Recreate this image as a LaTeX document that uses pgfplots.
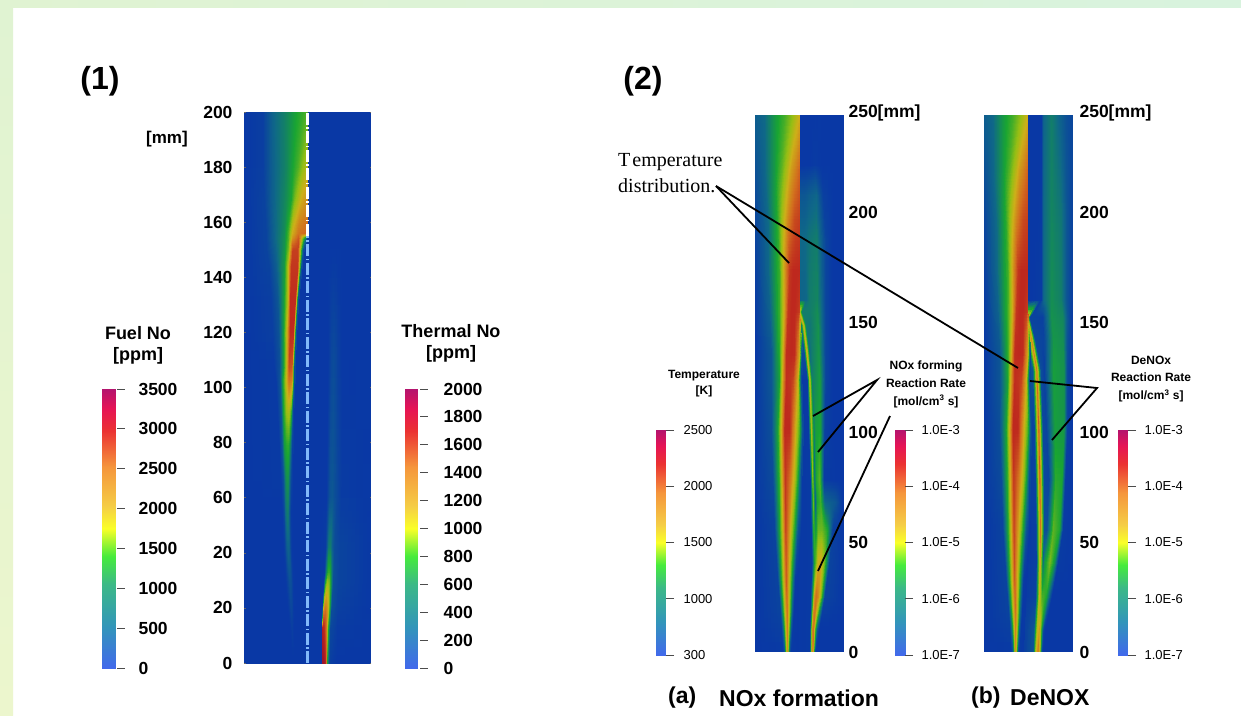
\documentclass[border=0pt]{standalone}
\usepackage{fontspec}
\setmainfont{Liberation Sans}
\newfontfamily\tms{Liberation Serif}
\usepackage{pgfplots}
\usepgfplotslibrary{patchplots}
\pgfplotsset{compat=1.18}
\newcommand{\fs}[1]{\fontsize{#1}{#1}\selectfont}
\pgfplotsset{
  colormap={heat}{rgb255(0cm)=(8,48,170) rgb255(15cm)=(15,105,135) rgb255(30cm)=(25,165,50) rgb255(45cm)=(150,190,20) rgb255(55cm)=(205,175,25) rgb255(70cm)=(210,110,30) rgb255(85cm)=(190,40,30) rgb255(100cm)=(140,10,50)},
  colormap={bar}{rgb255(0cm)=(65,105,235) rgb255(15cm)=(50,150,185) rgb255(30cm)=(60,185,135) rgb255(40cm)=(70,235,60) rgb255(50cm)=(250,255,40) rgb255(58cm)=(245,205,70) rgb255(72cm)=(245,150,60) rgb255(85cm)=(235,50,50) rgb255(93cm)=(230,20,85) rgb255(100cm)=(180,20,110)},
  heatpanel/.style={scale only axis, view={0}{90}, colormap name=heat, point meta min=0, point meta max=1, hide x axis, axis line style={draw=none}, xtick=\empty, zmin=-1, zmax=1, anchor=south west, clip=true},
  fld/.style={surf, shader=interp, patch type=bilinear, mesh/cols=#1, mesh/ordering=x varies, point meta=\thisrow{c}},
  barax/.style={scale only axis, view={0}{90}, colormap name=bar, anchor=south west, axis line style={draw=none}, xtick=\empty, xmin=0, xmax=1, zmin=-1, zmax=1, ytick pos=right, ticklabel pos=right, tick align=outside, y tick style={draw=black!70, line width=1pt, xshift=1.5pt}},
}
\begin{document}
\begin{tikzpicture}[x=1pt,y=-1pt]
\path[use as bounding box] (0,0) rectangle (1241,715);
\fill[white] (0,0) rectangle (1241,715);
\shade[left color={rgb,255:red,224;green,243;blue,210}, right color={rgb,255:red,216;green,243;blue,222}] (0,0) rectangle (1241,7);
\shade[top color={rgb,255:red,224;green,243;blue,210}, bottom color={rgb,255:red,236;green,246;blue,205}] (0,7) rectangle (13,715);

% ---------- Panel 1
\begin{axis}[heatpanel, at={(244pt,-663pt)}, width=127pt, height=551pt, xmin=42, xmax=422, ymin=0, ymax=200,
  ytick={0,20,...,200}, yticklabels={0,20,20,60,80,100,120,140,160,180,200},
  yticklabel style={font=\fs{17.5}\bfseries, xshift=-8pt}, y tick style={draw=black!60, line width=.6pt}, major tick length=1.5pt]
\addplot3[fld=2] table[z expr=0, row sep=\\]{x y c\\ 42 0 .02\\ 422 0 .02\\ 42 200 .02\\ 422 200 .02\\};
\addplot3[fld=8] table[z expr=0, row sep=\\]{x y c\\
42 0 .02\\ 180 0 .02\\ 185 0 .02\\ 188 0 .02\\ 191 0 .02\\ 194 0 .02\\ 197 0 .02\\ 200 0 .02\\
42 12 .02\\ 175 12 .02\\ 180 12 .02\\ 184 12 .03\\ 188 12 .04\\ 191 12 .03\\ 194 12 .02\\ 197 12 .02\\
42 30 .02\\ 165 30 .02\\ 170 30 .03\\ 175 30 .06\\ 180 30 .09\\ 185 30 .08\\ 189 30 .04\\ 193 30 .02\\
42 42 .02\\ 160 42 .02\\ 166 42 .04\\ 170 42 .1\\ 175 42 .14\\ 180 42 .12\\ 184 42 .05\\ 188 42 .02\\
42 54.5 .02\\ 158 54.5 .02\\ 164 54.5 .06\\ 168 54.5 .16\\ 173 54.5 .2\\ 177 54.5 .18\\ 181 54.5 .08\\ 186 54.5 .02\\
42 66.4 .02\\ 155 66.4 .03\\ 162 66.4 .08\\ 167 66.4 .2\\ 172 66.4 .26\\ 177 66.4 .24\\ 182 66.4 .12\\ 187 66.4 .03\\
42 78.4 .02\\ 150 78.4 .03\\ 158 78.4 .1\\ 165 78.4 .28\\ 172 78.4 .32\\ 178 78.4 .32\\ 183 78.4 .2\\ 189 78.4 .03\\
42 90.8 .02\\ 145 90.8 .03\\ 155 90.8 .1\\ 162 90.8 .3\\ 170 90.8 .45\\ 178 90.8 .5\\ 185 90.8 .35\\ 191 90.8 .03\\
42 102.7 .02\\ 140 102.7 .03\\ 152 102.7 .1\\ 160 102.7 .3\\ 170 102.7 .52\\ 178 102.7 .7\\ 188 102.7 .65\\ 195 102.7 .03\\
42 107.4 .02\\ 135 107.4 .03\\ 150 107.4 .08\\ 163 107.4 .3\\ 172 107.4 .55\\ 178 107.4 .78\\ 188 107.4 .75\\ 195 107.4 .03\\
42 119.8 .02\\ 130 119.8 .04\\ 148 119.8 .09\\ 162 119.8 .28\\ 172 119.8 .55\\ 182 119.8 .85\\ 192 119.8 .85\\ 200 119.8 .03\\
42 131.8 .02\\ 125 131.8 .04\\ 145 131.8 .1\\ 163 131.8 .28\\ 175 131.8 .5\\ 182 131.8 .84\\ 198 131.8 .84\\ 206 131.8 .03\\
42 143.7 .02\\ 120 143.7 .05\\ 140 143.7 .12\\ 165 143.7 .28\\ 175 143.7 .5\\ 185 143.7 .82\\ 205 143.7 .82\\ 216 143.7 .03\\
42 150 .02\\ 112 150 .05\\ 137 150 .13\\ 165 150 .26\\ 177 150 .42\\ 189 150 .8\\ 205 150 .8\\ 222 150 .03\\
42 154 .02\\ 110 154 .05\\ 135 154 .14\\ 165 154 .25\\ 176 154 .36\\ 188 154 .62\\ 207 154 .76\\ 230 154 .1\\
42 156 .02\\ 110 156 .05\\ 135 156 .14\\ 165 156 .24\\ 175 156 .34\\ 188 156 .55\\ 205 156 .68\\ 232 156 .72\\
42 168 .02\\ 105 168 .05\\ 130 168 .13\\ 170 168 .24\\ 185 168 .3\\ 195 168 .42\\ 215 168 .56\\ 232 168 .62\\
42 180 .02\\ 100 180 .04\\ 130 180 .13\\ 170 180 .22\\ 190 180 .3\\ 205 180 .36\\ 218 180 .44\\ 232 180 .5\\
42 200 .02\\ 100 200 .04\\ 130 200 .14\\ 170 200 .22\\ 200 200 .3\\ 218 200 .33\\ 232 200 .36\\ 233 200 .36\\
};
\addplot3[fld=9] table[z expr=0, row sep=\\]{x y c\\
270 0 .02\\ 276 0 .02\\ 278 0 .95\\ 283 0 .95\\ 289 0 .85\\ 293 0 .3\\ 300 0 .04\\ 320 0 .02\\ 422 0 .02\\
270 12 .02\\ 276 12 .02\\ 278 12 .9\\ 284 12 .85\\ 290 12 .7\\ 295 12 .35\\ 302 12 .06\\ 322 12 .03\\ 422 12 .02\\
270 20 .02\\ 278 20 .02\\ 282 20 .6\\ 288 20 .68\\ 295 20 .58\\ 300 20 .35\\ 306 20 .08\\ 324 20 .04\\ 422 20 .02\\
270 28 .02\\ 282 28 .03\\ 287 28 .35\\ 292 28 .5\\ 298 28 .45\\ 303 28 .3\\ 310 28 .08\\ 326 28 .05\\ 422 28 .02\\
270 33 .02\\ 285 33 .03\\ 290 33 .2\\ 295 33 .33\\ 301 33 .33\\ 306 33 .2\\ 312 33 .08\\ 328 33 .05\\ 422 33 .02\\
270 42 .02\\ 288 42 .03\\ 292 42 .1\\ 297 42 .2\\ 303 42 .2\\ 308 42 .12\\ 315 42 .07\\ 330 42 .05\\ 422 42 .02\\
270 60 .02\\ 290 60 .02\\ 295 60 .05\\ 300 60 .09\\ 308 60 .1\\ 315 60 .08\\ 322 60 .06\\ 335 60 .03\\ 422 60 .02\\
270 110 .02\\ 295 110 .02\\ 300 110 .04\\ 305 110 .06\\ 312 110 .07\\ 318 110 .06\\ 325 110 .04\\ 338 110 .02\\ 422 110 .02\\
270 150 .02\\ 295 150 .02\\ 300 150 .02\\ 305 150 .02\\ 312 150 .02\\ 318 150 .02\\ 325 150 .02\\ 338 150 .02\\ 422 150 .02\\
};
\addplot3[color={rgb,255:red,130;green,185;blue,250}, line width=3pt, dash pattern=on 12pt off 2.5pt on 1.5pt off 2.5pt] coordinates {(232,0,0) (232,155,0)};
\addplot3[white, line width=3pt, dash pattern=on 12pt off 2.5pt on 1.5pt off 2.5pt] coordinates {(232,155,0) (232,200,0)};
\end{axis}

% ---------- Panel 2a
\begin{axis}[heatpanel, at={(755pt,-651pt)}, width=88pt, height=550pt, xmin=30, xmax=293, ymin=0, ymax=250,
  ytick={0,50,100,150,200,245}, yticklabels={0,50,100,150,200,250[mm]}, ytick pos=right, ticklabel pos=right,
  yticklabel style={font=\fs{17.5}\bfseries, anchor=west, xshift=2pt, yshift=-1pt}, major tick length=1pt, y tick style={draw=none}]
\addplot3[fld=9] table[z expr=0, row sep=\\]{x y c\\
150 0 .02\\ 196 0 .03\\ 199 0 .35\\ 202 0 .6\\ 205 0 .7\\ 208 0 .4\\ 212 0 .05\\ 216 0 .02\\ 293 0 .02\\
150 9.5 .02\\ 196 9.5 .03\\ 200 9.5 .4\\ 203 9.5 .65\\ 207 9.5 .7\\ 212 9.5 .35\\ 218 9.5 .1\\ 224 9.5 .02\\ 293 9.5 .02\\
150 24.5 .02\\ 198 24.5 .03\\ 205 24.5 .35\\ 209 24.5 .6\\ 214 24.5 .7\\ 222 24.5 .62\\ 230 24.5 .4\\ 240 24.5 .05\\ 293 24.5 .02\\
150 40 .02\\ 202 40 .03\\ 209 40 .3\\ 214 40 .4\\ 220 40 .55\\ 228 40 .58\\ 238 40 .42\\ 254 40 .05\\ 293 40 .02\\
150 55 .02\\ 200 55 .03\\ 207 55 .35\\ 213 55 .25\\ 220 55 .4\\ 232 55 .4\\ 248 55 .3\\ 264 55 .04\\ 293 55 .02\\
150 67.3 .02\\ 198 67.3 .03\\ 206 67.3 .4\\ 212 67.3 .12\\ 218 67.3 .3\\ 228 67.3 .35\\ 240 67.3 .14\\ 272 67.3 .1\\ 293 67.3 .02\\
150 77.7 .02\\ 197 77.7 .03\\ 204 77.7 .45\\ 210 77.7 .15\\ 214 77.7 .3\\ 225 77.7 .38\\ 238 77.7 .03\\ 272 77.7 .02\\ 293 77.7 .02\\
150 100.5 .02\\ 192 100.5 .03\\ 200 100.5 .5\\ 208 100.5 .2\\ 213 100.5 .28\\ 226 100.5 .3\\ 240 100.5 .04\\ 265 100.5 .02\\ 293 100.5 .02\\
150 123.2 .02\\ 188 123.2 .03\\ 195 123.2 .55\\ 202 123.2 .2\\ 208 123.2 .22\\ 225 123.2 .28\\ 243 123.2 .05\\ 265 123.2 .02\\ 293 123.2 .02\\
150 136.8 .1\\ 178 136.8 .08\\ 186 136.8 .6\\ 194 136.8 .15\\ 202 136.8 .2\\ 222 136.8 .26\\ 243 136.8 .05\\ 265 136.8 .02\\ 293 136.8 .02\\
150 148.2 .5\\ 170 148.2 .2\\ 177 148.2 .55\\ 184 148.2 .2\\ 195 148.2 .18\\ 220 148.2 .25\\ 243 148.2 .05\\ 265 148.2 .02\\ 293 148.2 .02\\
150 154.1 .6\\ 158 154.1 .6\\ 165 154.1 .58\\ 172 154.1 .2\\ 195 154.1 .2\\ 218 154.1 .24\\ 243 154.1 .05\\ 265 154.1 .02\\ 293 154.1 .02\\
150 159.5 .12\\ 170 159.5 .14\\ 178 159.5 .14\\ 186 159.5 .15\\ 195 159.5 .2\\ 218 159.5 .22\\ 243 159.5 .05\\ 265 159.5 .02\\ 293 159.5 .02\\
150 186.8 .15\\ 170 186.8 .15\\ 175 186.8 .15\\ 180 186.8 .15\\ 195 186.8 .18\\ 215 186.8 .2\\ 243 186.8 .05\\ 265 186.8 .02\\ 293 186.8 .02\\
150 207.3 .1\\ 170 207.3 .1\\ 175 207.3 .1\\ 180 207.3 .1\\ 195 207.3 .12\\ 215 207.3 .14\\ 235 207.3 .04\\ 265 207.3 .02\\ 293 207.3 .02\\
150 220.9 .02\\ 170 220.9 .02\\ 175 220.9 .02\\ 180 220.9 .02\\ 195 220.9 .02\\ 210 220.9 .03\\ 230 220.9 .02\\ 265 220.9 .02\\ 293 220.9 .02\\
150 243.2 .02\\ 170 243.2 .02\\ 175 243.2 .02\\ 180 243.2 .02\\ 195 243.2 .02\\ 210 243.2 .02\\ 230 243.2 .02\\ 265 243.2 .02\\ 293 243.2 .02\\
};
\addplot3[fld=9] table[z expr=0, row sep=\\]{x y c\\
30 0 .02\\ 115 0 .03\\ 120 0 .1\\ 124 0 .4\\ 128 0 .65\\ 132 0 .4\\ 136 0 .1\\ 140 0 .03\\ 150 0 .02\\
30 17.3 .02\\ 108 17.3 .05\\ 116 17.3 .3\\ 122 17.3 .55\\ 128 17.3 .7\\ 135 17.3 .45\\ 142 17.3 .15\\ 148 17.3 .02\\ 155 17.3 .02\\
30 32.3 .02\\ 100 32.3 .05\\ 110 32.3 .3\\ 118 32.3 .55\\ 125 32.3 .75\\ 135 32.3 .5\\ 145 32.3 .2\\ 152 32.3 .03\\ 160 32.3 .02\\
30 55 .02\\ 90 55 .05\\ 105 55 .3\\ 115 55 .55\\ 123 55 .8\\ 135 55 .6\\ 148 55 .35\\ 160 55 .1\\ 170 55 .02\\
30 77.7 .02\\ 85 77.7 .07\\ 105 77.7 .35\\ 112 77.7 .55\\ 122 77.7 .82\\ 135 77.7 .7\\ 150 77.7 .5\\ 160 77.7 .3\\ 170 77.7 .05\\
30 100.5 .02\\ 80 100.5 .08\\ 100 100.5 .3\\ 110 100.5 .55\\ 120 100.5 .85\\ 135 100.5 .85\\ 150 100.5 .6\\ 165 100.5 .35\\ 175 100.5 .05\\
30 123.2 .02\\ 80 123.2 .1\\ 105 123.2 .3\\ 113 123.2 .55\\ 125 123.2 .84\\ 138 123.2 .82\\ 145 123.2 .8\\ 160 123.2 .55\\ 170 123.2 .04\\
30 134.5 .02\\ 80 134.5 .1\\ 105 134.5 .33\\ 115 134.5 .55\\ 125 134.5 .84\\ 140 134.5 .85\\ 150 134.5 .84\\ 165 134.5 .55\\ 172 134.5 .03\\
30 154 .02\\ 75 154 .13\\ 105 154 .35\\ 118 154 .55\\ 130 154 .82\\ 140 154 .85\\ 150 154 .85\\ 161 154 .82\\ 163 154 .8\\
30 172.3 .03\\ 70 172.3 .14\\ 105 172.3 .35\\ 120 172.3 .6\\ 135 172.3 .82\\ 145 172.3 .85\\ 155 172.3 .85\\ 163 172.3 .85\\ 163.1 172.3 .85\\
30 195 .05\\ 70 195 .15\\ 100 195 .33\\ 115 195 .5\\ 130 195 .65\\ 140 195 .72\\ 150 195 .78\\ 163 195 .8\\ 163.1 195 .8\\
30 217.7 .08\\ 60 217.7 .14\\ 90 217.7 .27\\ 110 217.7 .38\\ 130 217.7 .52\\ 140 217.7 .6\\ 150 217.7 .65\\ 163 217.7 .72\\ 163.1 217.7 .72\\
30 243.2 .12\\ 60 243.2 .15\\ 90 243.2 .27\\ 120 243.2 .35\\ 145 243.2 .45\\ 155 243.2 .5\\ 160 243.2 .52\\ 163 243.2 .54\\ 163.1 243.2 .54\\
};
\end{axis}

% ---------- Panel 2b
\begin{axis}[heatpanel, at={(984pt,-651pt)}, width=88pt, height=550pt, xmin=717, xmax=980, ymin=0, ymax=250,
  ytick={0,50,100,150,200,245}, yticklabels={0,50,100,150,200,250[mm]}, ytick pos=right, ticklabel pos=right,
  yticklabel style={font=\fs{17.5}\bfseries, anchor=west, xshift=4pt, yshift=-1pt}, major tick length=1pt, y tick style={draw=none}]
\addplot3[fld=9] table[z expr=0, row sep=\\]{x y c\\
830 0 .02\\ 866 0 .1\\ 873 0 .5\\ 880 0 .68\\ 886 0 .5\\ 890 0 .2\\ 893 0 .05\\ 896 0 .02\\ 980 0 .02\\
830 9.5 .02\\ 868 9.5 .1\\ 877 9.5 .5\\ 884 9.5 .6\\ 889 9.5 .4\\ 893 9.5 .2\\ 897 9.5 .05\\ 902 9.5 .02\\ 980 9.5 .02\\
830 24.5 .02\\ 873 24.5 .05\\ 884 24.5 .55\\ 892 24.5 .35\\ 896 24.5 .35\\ 905 24.5 .3\\ 915 24.5 .12\\ 922 24.5 .02\\ 980 24.5 .02\\
830 40 .02\\ 875 40 .04\\ 886 40 .62\\ 895 40 .15\\ 899 40 .25\\ 915 40 .42\\ 930 40 .25\\ 940 40 .03\\ 980 40 .02\\
830 55 .02\\ 874 55 .04\\ 887 55 .68\\ 899 55 .08\\ 906 55 .08\\ 925 55 .38\\ 945 55 .3\\ 955 55 .03\\ 980 55 .02\\
830 77.7 .02\\ 872 77.7 .05\\ 885 77.7 .74\\ 898 77.7 .06\\ 912 77.7 .05\\ 932 77.7 .32\\ 952 77.7 .3\\ 962 77.7 .03\\ 980 77.7 .02\\
830 100.5 .02\\ 869 100.5 .05\\ 882 100.5 .74\\ 895 100.5 .06\\ 905 100.5 .05\\ 930 100.5 .28\\ 958 100.5 .26\\ 968 100.5 .04\\ 980 100.5 .02\\
830 128 .1\\ 864 128 .1\\ 876 128 .68\\ 888 128 .08\\ 898 128 .04\\ 925 128 .28\\ 958 128 .25\\ 968 128 .06\\ 980 128 .02\\
830 141.4 .3\\ 850 141.4 .3\\ 861 141.4 .64\\ 872 141.4 .06\\ 897 141.4 .05\\ 925 141.4 .26\\ 955 141.4 .24\\ 968 141.4 .08\\ 980 141.4 .03\\
830 151.4 .5\\ 845 151.4 .6\\ 850 151.4 .55\\ 856 151.4 .05\\ 893 151.4 .04\\ 920 151.4 .25\\ 955 151.4 .22\\ 968 151.4 .1\\ 980 151.4 .03\\
830 159.5 .02\\ 860 159.5 .02\\ 880 159.5 .03\\ 890 159.5 .03\\ 897 159.5 .15\\ 920 159.5 .24\\ 950 159.5 .2\\ 965 159.5 .1\\ 980 159.5 .04\\
830 195 .02\\ 860 195 .02\\ 880 195 .02\\ 890 195 .03\\ 897 195 .15\\ 920 195 .22\\ 950 195 .18\\ 965 195 .1\\ 980 195 .05\\
830 243.2 .02\\ 860 243.2 .02\\ 880 243.2 .02\\ 890 243.2 .02\\ 897 243.2 .14\\ 920 243.2 .2\\ 945 243.2 .13\\ 965 243.2 .08\\ 980 243.2 .06\\
};
\addplot3[fld=9] table[z expr=0, row sep=\\]{x y c\\
717 0 .02\\ 800 0 .03\\ 805 0 .1\\ 809 0 .4\\ 813 0 .65\\ 817 0 .4\\ 821 0 .1\\ 825 0 .03\\ 835 0 .02\\
717 17.3 .02\\ 793 17.3 .05\\ 801 17.3 .3\\ 807 17.3 .55\\ 813 17.3 .7\\ 820 17.3 .45\\ 827 17.3 .15\\ 833 17.3 .02\\ 840 17.3 .02\\
717 32.3 .02\\ 785 32.3 .05\\ 795 32.3 .3\\ 803 32.3 .55\\ 810 32.3 .75\\ 820 32.3 .5\\ 830 32.3 .2\\ 837 32.3 .03\\ 845 32.3 .02\\
717 55 .02\\ 775 55 .05\\ 790 55 .3\\ 800 55 .55\\ 808 55 .8\\ 820 55 .6\\ 833 55 .35\\ 845 55 .1\\ 855 55 .02\\
717 77.7 .02\\ 770 77.7 .07\\ 790 77.7 .35\\ 797 77.7 .55\\ 807 77.7 .82\\ 820 77.7 .7\\ 835 77.7 .5\\ 845 77.7 .3\\ 855 77.7 .05\\
717 100.5 .02\\ 765 100.5 .08\\ 785 100.5 .3\\ 795 100.5 .55\\ 805 100.5 .85\\ 820 100.5 .85\\ 835 100.5 .6\\ 850 100.5 .35\\ 860 100.5 .05\\
717 123.2 .02\\ 765 123.2 .1\\ 790 123.2 .3\\ 798 123.2 .55\\ 810 123.2 .84\\ 823 123.2 .82\\ 830 123.2 .8\\ 845 123.2 .55\\ 855 123.2 .04\\
717 134.5 .02\\ 765 134.5 .1\\ 790 134.5 .33\\ 800 134.5 .55\\ 810 134.5 .84\\ 825 134.5 .85\\ 835 134.5 .84\\ 850 134.5 .55\\ 857 134.5 .03\\
717 154 .02\\ 760 154 .13\\ 790 154 .35\\ 803 154 .55\\ 815 154 .82\\ 825 154 .85\\ 835 154 .85\\ 846 154 .82\\ 848 154 .8\\
717 172.3 .03\\ 755 172.3 .14\\ 790 172.3 .35\\ 805 172.3 .6\\ 820 172.3 .82\\ 830 172.3 .85\\ 840 172.3 .85\\ 848 172.3 .85\\ 848.1 172.3 .85\\
717 195 .05\\ 755 195 .15\\ 785 195 .33\\ 800 195 .5\\ 815 195 .65\\ 825 195 .72\\ 835 195 .78\\ 848 195 .8\\ 848.1 195 .8\\
717 217.7 .08\\ 745 217.7 .14\\ 775 217.7 .27\\ 795 217.7 .38\\ 815 217.7 .52\\ 825 217.7 .6\\ 835 217.7 .65\\ 848 217.7 .72\\ 848.1 217.7 .72\\
717 243.2 .12\\ 745 243.2 .15\\ 775 243.2 .27\\ 805 243.2 .35\\ 830 243.2 .45\\ 840 243.2 .5\\ 845 243.2 .52\\ 848 243.2 .54\\ 848.1 243.2 .54\\
};
\end{axis}

% ---------- Colour bars
\begin{axis}[barax, at={(102pt,-668pt)}, width=13pt, height=279pt, ymin=0, ymax=3500,
  ytick={0,500,...,3500}, yticklabels={0,500,1000,1500,2000,2500,3000,3500},
  major tick length=8pt, yticklabel style={font=\fs{17.5}\bfseries, anchor=west, xshift=12pt}]
\addplot3[surf, shader=interp, mesh/cols=2, point meta=y] coordinates {(0,0,0) (1,0,0) (0,3500,0) (1,3500,0)};
\end{axis}
\begin{axis}[barax, at={(405pt,-668pt)}, width=13pt, height=279pt, ymin=0, ymax=2000,
  ytick={0,200,...,2000}, yticklabels={0,200,400,600,800,1000,1200,1400,1600,1800,2000},
  major tick length=8pt, yticklabel style={font=\fs{17.5}\bfseries, anchor=west, xshift=14pt}]
\addplot3[surf, shader=interp, mesh/cols=2, point meta=y] coordinates {(0,0,0) (1,0,0) (0,2000,0) (1,2000,0)};
\end{axis}
\begin{axis}[barax, at={(656pt,-655pt)}, width=10pt, height=225pt, ymin=0, ymax=4,
  ytick={0,1,2,3,4}, yticklabels={300,1000,1500,2000,2500}, y tick style={xshift=-1.5pt},
  major tick length=8pt, yticklabel style={font=\fs{13}, anchor=west, xshift=6pt}]
\addplot3[surf, shader=interp, mesh/cols=2, point meta=y] coordinates {(0,0,0) (1,0,0) (0,4,0) (1,4,0)};
\end{axis}
\begin{axis}[barax, at={(895pt,-655pt)}, width=10pt, height=225pt, ymin=0, ymax=4,
  ytick={0,1,2,3,4}, yticklabels={1.0E-7,1.0E-6,1.0E-5,1.0E-4,1.0E-3}, y tick style={xshift=-1.5pt},
  major tick length=8pt, yticklabel style={font=\fs{13}, anchor=west, xshift=5pt}]
\addplot3[surf, shader=interp, mesh/cols=2, point meta=y] coordinates {(0,0,0) (1,0,0) (0,4,0) (1,4,0)};
\end{axis}
\begin{axis}[barax, at={(1118pt,-655pt)}, width=10pt, height=225pt, ymin=0, ymax=4,
  ytick={0,1,2,3,4}, yticklabels={1.0E-7,1.0E-6,1.0E-5,1.0E-4,1.0E-3}, y tick style={xshift=-1.5pt},
  major tick length=8pt, yticklabel style={font=\fs{13}, anchor=west, xshift=5pt}]
\addplot3[surf, shader=interp, mesh/cols=2, point meta=y] coordinates {(0,0,0) (1,0,0) (0,4,0) (1,4,0)};
\end{axis}

% ---------- Annotation lines
\draw[line width=1.8pt] (716,186) -- (789,263);
\draw[line width=1.8pt] (716,186) -- (1018,368);
\draw[line width=1.8pt] (813,416) -- (877,380) -- (818,452);
\draw[line width=1.8pt] (890,416) -- (818,571);
\draw[line width=1.8pt] (1030,381) -- (1097,388) -- (1052,440);

% ---------- Texts
\node[anchor=center, font=\fs{32}\bfseries] at (100,81) {(1)};
\node[anchor=center, font=\fs{32}\bfseries] at (643,81) {(2)};
\node[anchor=center, font=\fs{17}\bfseries] at (167,139) {[mm]};
\node[align=center, font=\fs{18}\bfseries, anchor=center] at (138,345) {Fuel No\\[3pt]{[ppm]}};
\node[align=center, font=\fs{18}\bfseries, anchor=center] at (451,343) {Thermal No\\[3pt]{[ppm]}};
\node[align=center, font=\fs{12}\bfseries, anchor=center] at (704,384) {Temperature\\[4pt]{[K]}};
\node[align=center, font=\fs{12}\bfseries, anchor=center] at (926,384) {NOx forming\\[6pt]Reaction Rate\\[6pt]{[mol/cm\textsuperscript{3} s]}};
\node[align=center, font=\fs{12}\bfseries, anchor=center] at (1151,379) {DeNOx\\[5.5pt]Reaction Rate\\[5.5pt]{[mol/cm\textsuperscript{3} s]}};
\node[anchor=west, font=\tms\fs{20}, align=left, inner sep=0pt] at (618,173) {T\kern2pt emperature\\[6pt]distribution.};
\node[anchor=west, font=\fs{23}\bfseries, inner sep=0pt] at (668,698) {(a)};
\node[anchor=west, font=\fs{23}\bfseries, inner sep=0pt] at (719,698) {NOx formation};
\node[anchor=west, font=\fs{23}\bfseries, inner sep=0pt] at (971,698) {(b)};
\node[anchor=west, font=\fs{23}\bfseries, inner sep=0pt] at (1010,698) {DeNOX};
\end{tikzpicture}
\end{document}
